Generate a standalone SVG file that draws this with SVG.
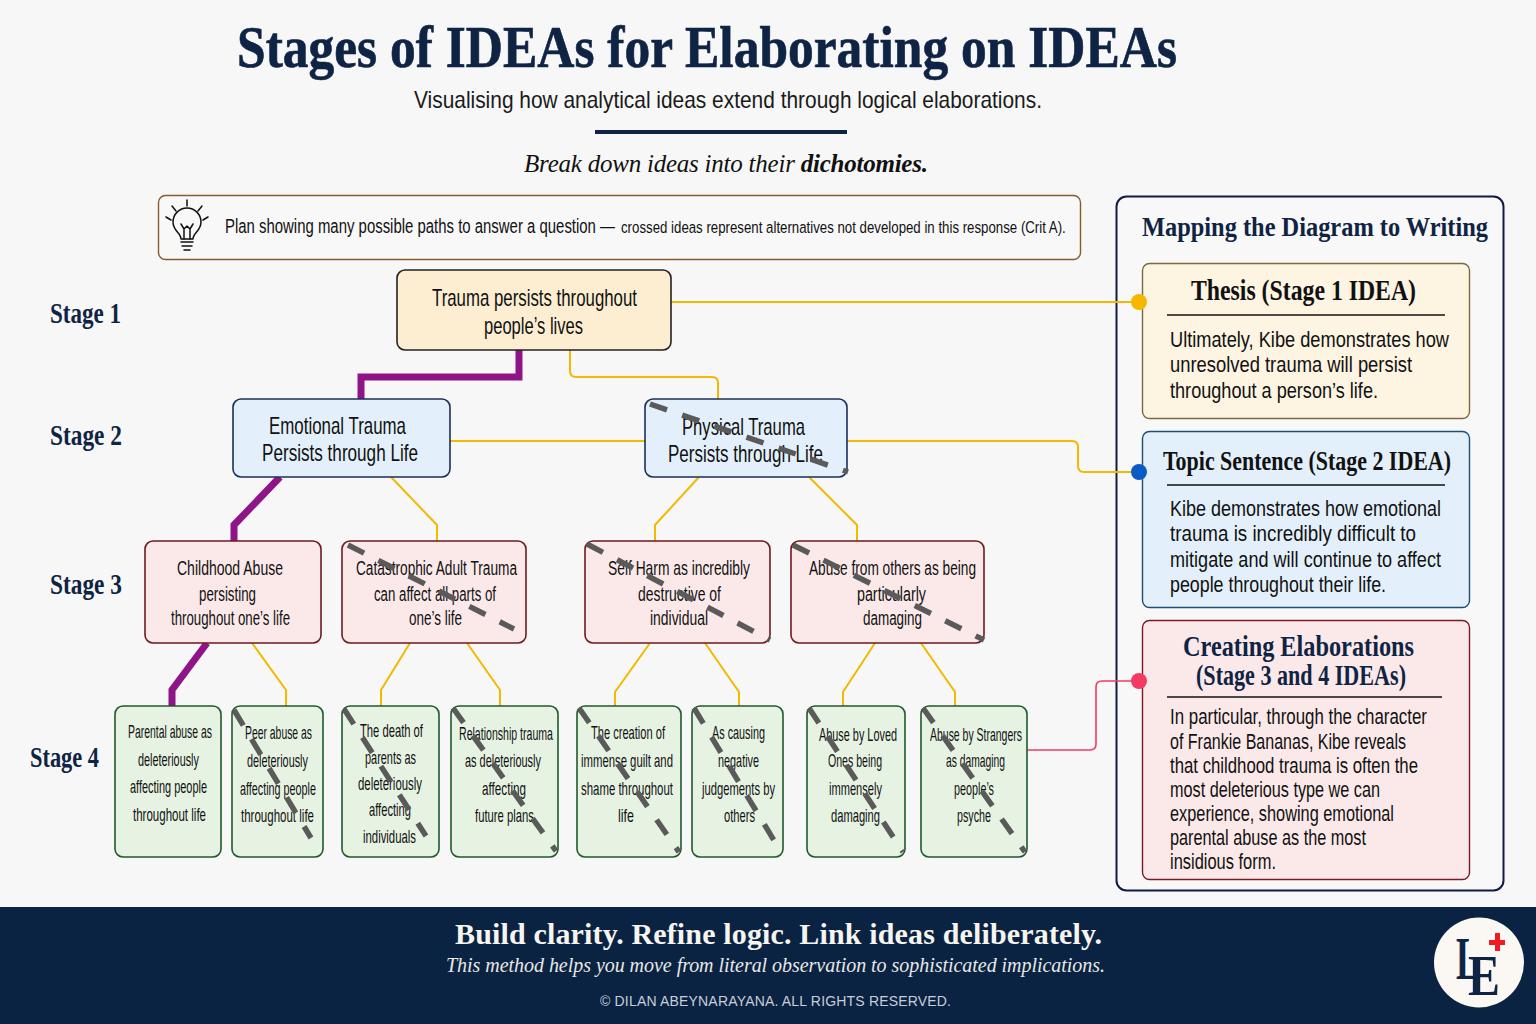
<svg xmlns="http://www.w3.org/2000/svg" width="1536" height="1024" viewBox="0 0 1536 1024">
<style>
text{font-family:"Liberation Sans Narrow","Liberation Sans",Arial,sans-serif;fill:#111}
.serif{font-family:"Liberation Serif","Times New Roman",serif}
.navy{fill:#0f2444}
.title{font-size:60px;font-weight:700;stroke:#0f2444;stroke-width:.7px}
.stage{font-size:29px;font-weight:700}
.s1{font-size:24px}
.s3{font-size:20px}
.s4{font-size:18px}
.body{font-size:22px}
.head{font-size:29px;font-weight:700}
.head2{font-size:27px;font-weight:700}
.box{stroke-width:1.6}
.b1{fill:#fdeed2;stroke:#222}
.b2{fill:#e3f0fb;stroke:#1b2f5b}
.b3{fill:#fbe9e9;stroke:#6e1a1f}
.b4{fill:#e6f3e3;stroke:#1f5a2c}
.yl{fill:none;stroke:#f5b800;stroke-width:2}
.pu{fill:none;stroke:#8e1487;stroke-width:7}
.rd{fill:none;stroke:#f33a63;stroke-width:1.6}
.x{stroke:#5a5a5a;stroke-width:5.500;stroke-dasharray:18 16;fill:none}
.rule{stroke:#111;stroke-width:1.5}
.bulb{fill:none;stroke:#111;stroke-width:1.500;stroke-linecap:round;stroke-linejoin:round}
</style>
<rect width="1536" height="1024" fill="#f7f7f7"/>
<g id="header">
<text class="serif navy title" x="237" y="67" textLength="940" lengthAdjust="spacingAndGlyphs">Stages of IDEAs for Elaborating on IDEAs</text>
<text x="414" y="108" font-size="24" textLength="628" lengthAdjust="spacingAndGlyphs" style="fill:#1a1a1a">Visualising how analytical ideas extend through logical elaborations.</text>
<rect x="595" y="130" width="252" height="4" fill="#0f2444"/>
<text class="serif" x="524" y="172" font-size="25" font-style="italic" textLength="404" lengthAdjust="spacing">Break down ideas into their <tspan font-weight="700">dichotomies.</tspan></text>
</g>
<g id="note">
<rect x="158.500" y="195.500" width="922" height="64" rx="7" fill="#f8f8f8" stroke="#8a5a2b" stroke-width="1.400"/>
<g class="bulb">
<path d="M181 239C181 233 173 231 173 222A14 14 0 0 1 201 222C201 231 193 233 193 239Z"/>
<path d="M184 239L184 229L181 224M190 239L190 229L193 224M184 229L187 226L190 229M181 242H193M182 246H192M184 250H190"/>
<path d="M187 200V206M172 206L176 211M202 206L198 211M166 217L171 220M208 217L203 220"/>
</g>
<text transform="translate(225 233) scale(.8 1)" font-size="20" textLength="487.500" lengthAdjust="spacingAndGlyphs">Plan showing many possible paths to answer a question —</text>
<text transform="translate(621 233) scale(.8 1)" font-size="17" textLength="556" lengthAdjust="spacingAndGlyphs">crossed ideas represent alternatives not developed in this response (Crit A).</text>
</g>
<g id="stage-labels">
<text class="serif navy stage" x="50" y="323" textLength="71" lengthAdjust="spacingAndGlyphs">Stage 1</text>
<text class="serif navy stage" x="50" y="445" textLength="72" lengthAdjust="spacingAndGlyphs">Stage 2</text>
<text class="serif navy stage" x="50" y="594" textLength="72" lengthAdjust="spacingAndGlyphs">Stage 3</text>
<text class="serif navy stage" x="30" y="767" textLength="69" lengthAdjust="spacingAndGlyphs">Stage 4</text>
</g>
<rect id="panel" x="1116.500" y="196.500" width="387" height="694" rx="10" fill="#f8f8f8" stroke="#101a45" stroke-width="2"/>
<g id="connectors">
<path class="yl" d="M671 302H1139"/>
<path class="yl" d="M570 350V371Q570 377 576 377H712Q718 377 718 383V399"/>
<path class="yl" d="M450 441H645"/>
<path class="yl" d="M847 441H1072Q1078 441 1078 447V466Q1078 472 1084 472H1139"/>
<path class="yl" d="M391 477L437 525V541"/>
<path class="yl" d="M699 477L655 525V541"/>
<path class="yl" d="M809 477L857 525V541"/>
<path class="yl" d="M252 643L286 690V706"/>
<path class="yl" d="M410 643L381 690V706"/>
<path class="yl" d="M467 643L500 690V706"/>
<path class="yl" d="M650 643L615 692V706"/>
<path class="yl" d="M705 643L739 692V706"/>
<path class="yl" d="M875 643L843 692V706"/>
<path class="yl" d="M921 643L955 692V706"/>
<path class="rd" d="M1027 750H1090Q1096 750 1096 744V687Q1096 681 1102 681H1139"/>
<path class="pu" d="M519 350V377H361V399"/>
<path class="pu" d="M280 477L234 525V541"/>
<path class="pu" d="M207 643L172 690V706"/>
</g>
<g id="node-s1">
<rect class="box b1" x="397" y="270" width="274" height="80" rx="8"/>
<text class="s1" x="432" y="306" textLength="205" lengthAdjust="spacingAndGlyphs">Trauma persists throughout</text>
<text class="s1" x="484" y="334" textLength="99" lengthAdjust="spacingAndGlyphs">people’s lives</text>
</g>
<g id="node-s2a">
<rect class="box b2" x="233" y="399" width="217" height="78" rx="8"/>
<text class="s1" x="269" y="434" textLength="137" lengthAdjust="spacingAndGlyphs">Emotional Trauma</text>
<text class="s1" x="262" y="461" textLength="156" lengthAdjust="spacingAndGlyphs">Persists through Life</text>
</g>
<g id="node-s2b">
<rect class="box b2" x="645" y="399" width="202" height="78" rx="8"/>
<text class="s1" x="682" y="435" textLength="123" lengthAdjust="spacingAndGlyphs">Physical Trauma</text>
<text class="s1" x="668" y="462" textLength="155" lengthAdjust="spacingAndGlyphs">Persists through Life</text>
<line class="x" x1="650" y1="404" x2="848" y2="472"/>
</g>
<g id="node-s3a">
<rect class="box b3" x="145" y="541" width="176" height="102" rx="8"/>
<text class="s3" x="177" y="575" textLength="106" lengthAdjust="spacingAndGlyphs">Childhood Abuse</text>
<text class="s3" x="199" y="601" textLength="57" lengthAdjust="spacingAndGlyphs">persisting</text>
<text class="s3" x="171" y="625" textLength="119" lengthAdjust="spacingAndGlyphs">throughout one’s life</text>
</g>
<g id="node-s3b">
<rect class="box b3" x="342" y="541" width="184" height="102" rx="8"/>
<text class="s3" x="356" y="575" textLength="161" lengthAdjust="spacingAndGlyphs">Catastrophic Adult Trauma</text>
<text class="s3" x="374" y="601" textLength="122" lengthAdjust="spacingAndGlyphs">can affect all parts of</text>
<text class="s3" x="409" y="625" textLength="53" lengthAdjust="spacingAndGlyphs">one’s life</text>
<line class="x" x1="348" y1="545" x2="514" y2="629"/>
</g>
<g id="node-s3c">
<rect class="box b3" x="585" y="541" width="185" height="102" rx="8"/>
<text class="s3" transform="translate(608 575) scale(.7 1)" textLength="202.900" lengthAdjust="spacingAndGlyphs">Self Harm as incredibly</text>
<text class="s3" x="638" y="601" textLength="83" lengthAdjust="spacingAndGlyphs">destructive of</text>
<text class="s3" x="650" y="625" textLength="58" lengthAdjust="spacingAndGlyphs">individual</text>
<line class="x" x1="587" y1="544" x2="770" y2="640"/>
</g>
<g id="node-s3d">
<rect class="box b3" x="791" y="541" width="193" height="102" rx="8"/>
<text class="s3" x="809" y="575" textLength="167" lengthAdjust="spacingAndGlyphs">Abuse from others as being</text>
<text class="s3" x="857" y="601" textLength="69" lengthAdjust="spacingAndGlyphs">particularly</text>
<text class="s3" x="863" y="625" textLength="59" lengthAdjust="spacingAndGlyphs">damaging</text>
<line class="x" x1="793" y1="545" x2="984" y2="640"/>
</g>
<g id="node-s4a">
<rect class="box b4" x="115" y="706" width="106" height="151" rx="8"/>
<text class="s4" transform="translate(128 738) scale(.65 1)" textLength="129.200" lengthAdjust="spacingAndGlyphs">Parental abuse as</text>
<text class="s4" transform="translate(138 766) scale(.65 1)" textLength="93.800" lengthAdjust="spacingAndGlyphs">deleteriously</text>
<text class="s4" transform="translate(130 793) scale(.65 1)" textLength="118.500" lengthAdjust="spacingAndGlyphs">affecting people</text>
<text class="s4" transform="translate(133 821) scale(.65 1)" textLength="112.300" lengthAdjust="spacingAndGlyphs">throughout life</text>
</g>
<g id="node-s4b">
<rect class="box b4" x="232" y="706" width="91" height="151" rx="8"/>
<text class="s4" transform="translate(245 739) scale(.65 1)" textLength="103.100" lengthAdjust="spacingAndGlyphs">Peer abuse as</text>
<text class="s4" transform="translate(247 767) scale(.65 1)" textLength="93.800" lengthAdjust="spacingAndGlyphs">deleteriously</text>
<text class="s4" transform="translate(240 795) scale(.65 1)" textLength="116.900" lengthAdjust="spacingAndGlyphs">affecting people</text>
<text class="s4" transform="translate(241 822) scale(.65 1)" textLength="112.300" lengthAdjust="spacingAndGlyphs">throughout life</text>
<line class="x" x1="234" y1="710" x2="311" y2="838"/>
</g>
<g id="node-s4c">
<rect class="box b4" x="342" y="706" width="97" height="151" rx="8"/>
<text class="s4" transform="translate(360 737) scale(.65 1)" textLength="96.900" lengthAdjust="spacingAndGlyphs">The death of</text>
<text class="s4" transform="translate(365 764) scale(.65 1)" textLength="78.500" lengthAdjust="spacingAndGlyphs">parents as</text>
<text class="s4" transform="translate(358 790) scale(.65 1)" textLength="98.500" lengthAdjust="spacingAndGlyphs">deleteriously</text>
<text class="s4" transform="translate(369 816) scale(.65 1)" textLength="64.600" lengthAdjust="spacingAndGlyphs">affecting</text>
<text class="s4" transform="translate(363 843) scale(.65 1)" textLength="81.500" lengthAdjust="spacingAndGlyphs">individuals</text>
<line class="x" x1="344" y1="709" x2="426" y2="836"/>
</g>
<g id="node-s4d">
<rect class="box b4" x="451" y="706" width="107" height="151" rx="8"/>
<text class="s4" transform="translate(459 740) scale(.65 1)" textLength="144.600" lengthAdjust="spacingAndGlyphs">Relationship trauma</text>
<text class="s4" transform="translate(465 767) scale(.65 1)" textLength="116.900" lengthAdjust="spacingAndGlyphs">as deleteriously</text>
<text class="s4" transform="translate(482 795) scale(.65 1)" textLength="67.700" lengthAdjust="spacingAndGlyphs">affecting</text>
<text class="s4" transform="translate(475 822) scale(.65 1)" textLength="90.800" lengthAdjust="spacingAndGlyphs">future plans</text>
<line class="x" x1="453" y1="708" x2="556" y2="851"/>
</g>
<g id="node-s4e">
<rect class="box b4" x="577" y="706" width="104" height="151" rx="8"/>
<text class="s4" transform="translate(591 739) scale(.65 1)" textLength="113.800" lengthAdjust="spacingAndGlyphs">The creation of</text>
<text class="s4" transform="translate(581 767) scale(.65 1)" textLength="141.500" lengthAdjust="spacingAndGlyphs">immense guilt and</text>
<text class="s4" transform="translate(581 795) scale(.65 1)" textLength="141.500" lengthAdjust="spacingAndGlyphs">shame throughout</text>
<text class="s4" transform="translate(618 822) scale(.65 1)" textLength="24.600" lengthAdjust="spacingAndGlyphs">life</text>
<line class="x" x1="579" y1="708" x2="679" y2="852"/>
</g>
<g id="node-s4f">
<rect class="box b4" x="692" y="706" width="91" height="151" rx="8"/>
<text class="s4" transform="translate(712 739) scale(.65 1)" textLength="81.500" lengthAdjust="spacingAndGlyphs">As causing</text>
<text class="s4" transform="translate(718 767) scale(.65 1)" textLength="63.100" lengthAdjust="spacingAndGlyphs">negative</text>
<text class="s4" transform="translate(702 795) scale(.65 1)" textLength="112.300" lengthAdjust="spacingAndGlyphs">judgements by</text>
<text class="s4" transform="translate(724 822) scale(.65 1)" textLength="47.700" lengthAdjust="spacingAndGlyphs">others</text>
<line class="x" x1="694" y1="708" x2="781" y2="852"/>
</g>
<g id="node-s4g">
<rect class="box b4" x="807" y="706" width="98" height="151" rx="8"/>
<text class="s4" transform="translate(819 741) scale(.65 1)" textLength="120" lengthAdjust="spacingAndGlyphs">Abuse by Loved</text>
<text class="s4" transform="translate(828 767) scale(.65 1)" textLength="83.100" lengthAdjust="spacingAndGlyphs">Ones being</text>
<text class="s4" transform="translate(829 795) scale(.65 1)" textLength="81.500" lengthAdjust="spacingAndGlyphs">immensely</text>
<text class="s4" transform="translate(831 822) scale(.65 1)" textLength="75.400" lengthAdjust="spacingAndGlyphs">damaging</text>
<line class="x" x1="809" y1="708" x2="903" y2="852"/>
</g>
<g id="node-s4h">
<rect class="box b4" x="921" y="706" width="106" height="151" rx="8"/>
<text class="s4" transform="translate(930 741) scale(.65 1)" textLength="141.500" lengthAdjust="spacingAndGlyphs">Abuse by Strangers</text>
<text class="s4" transform="translate(946 767) scale(.65 1)" textLength="90.800" lengthAdjust="spacingAndGlyphs">as damaging</text>
<text class="s4" transform="translate(954 795) scale(.65 1)" textLength="61.500" lengthAdjust="spacingAndGlyphs">people’s</text>
<text class="s4" transform="translate(957 822) scale(.65 1)" textLength="52.300" lengthAdjust="spacingAndGlyphs">psyche</text>
<line class="x" x1="923" y1="708" x2="1025" y2="852"/>
</g>
<g id="panel-content">
<text class="serif navy head2" x="1142" y="236" textLength="346" lengthAdjust="spacingAndGlyphs">Mapping the Diagram to Writing</text>
</g>
<g id="card-thesis">
<rect x="1142.500" y="263.500" width="327" height="155" rx="7" fill="#fdf4e2" stroke="#7a6a40" stroke-width="1.400"/>
<text class="serif head" x="1191" y="300" textLength="225" lengthAdjust="spacingAndGlyphs">Thesis (Stage 1 IDEA)</text>
<line class="rule" x1="1167" y1="315" x2="1445" y2="315"/>
<text class="body" x="1170" y="347" textLength="279" lengthAdjust="spacingAndGlyphs">Ultimately, Kibe demonstrates how</text>
<text class="body" x="1170" y="372" textLength="242" lengthAdjust="spacingAndGlyphs">unresolved trauma will persist</text>
<text class="body" x="1170" y="398" textLength="208" lengthAdjust="spacingAndGlyphs">throughout a person’s life.</text>
<circle cx="1139" cy="302" r="8" fill="#f5b800"/>
</g>
<g id="card-topic">
<rect x="1142.500" y="431.500" width="327" height="176" rx="7" fill="#e3f0fb" stroke="#1b4f7a" stroke-width="1.400"/>
<text class="serif head2" x="1163" y="470" textLength="288" lengthAdjust="spacingAndGlyphs">Topic Sentence (Stage 2 IDEA)</text>
<line class="rule" x1="1167" y1="485" x2="1445" y2="485"/>
<text class="body" x="1170" y="516" textLength="271" lengthAdjust="spacingAndGlyphs">Kibe demonstrates how emotional</text>
<text class="body" x="1170" y="541" textLength="246" lengthAdjust="spacingAndGlyphs">trauma is incredibly difficult to</text>
<text class="body" x="1170" y="567" textLength="271" lengthAdjust="spacingAndGlyphs">mitigate and will continue to affect</text>
<text class="body" x="1170" y="592" textLength="216" lengthAdjust="spacingAndGlyphs">people throughout their life.</text>
<circle cx="1139" cy="472" r="8" fill="#0a5cc4"/>
</g>
<g id="card-creating">
<rect x="1142.500" y="620.500" width="327" height="259" rx="7" fill="#fbe9e9" stroke="#7a1a25" stroke-width="1.400"/>
<text class="serif navy head" x="1183" y="656" textLength="231" lengthAdjust="spacingAndGlyphs">Creating Elaborations</text>
<text class="serif navy head" x="1196" y="685" textLength="210" lengthAdjust="spacingAndGlyphs">(Stage 3 and 4 IDEAs)</text>
<line class="rule" x1="1167" y1="697" x2="1442" y2="697"/>
<text class="body" x="1170" y="724" textLength="257" lengthAdjust="spacingAndGlyphs">In particular, through the character</text>
<text class="body" x="1170" y="749" textLength="236" lengthAdjust="spacingAndGlyphs">of Frankie Bananas, Kibe reveals</text>
<text class="body" x="1170" y="773" textLength="248" lengthAdjust="spacingAndGlyphs">that childhood trauma is often the</text>
<text class="body" x="1170" y="797" textLength="210" lengthAdjust="spacingAndGlyphs">most deleterious type we can</text>
<text class="body" x="1170" y="821" textLength="224" lengthAdjust="spacingAndGlyphs">experience, showing emotional</text>
<text class="body" x="1170" y="845" textLength="196" lengthAdjust="spacingAndGlyphs">parental abuse as the most</text>
<text class="body" x="1170" y="869" textLength="106" lengthAdjust="spacingAndGlyphs">insidious form.</text>
<circle cx="1139" cy="681" r="8" fill="#f33a63"/>
</g>
<g id="footer">
<rect y="907" width="1536" height="117" fill="#0a2343"/>
<text class="serif" x="455" y="944" font-size="30" font-weight="700" style="fill:#f7f5ef" textLength="647" lengthAdjust="spacing">Build clarity. Refine logic. Link ideas deliberately.</text>
<text class="serif" x="446" y="972" font-size="20" font-style="italic" style="fill:#e8e8e4" textLength="659" lengthAdjust="spacing">This method helps you move from literal observation to sophisticated implications.</text>
<text x="600" y="1006" font-size="14" style="font-family:'Liberation Sans',Arial,sans-serif;fill:#c8ced8" textLength="351" lengthAdjust="spacing">© DILAN ABEYNARAYANA. ALL RIGHTS RESERVED.</text>
</g>
<g id="logo">
<circle cx="1479" cy="962.500" r="45" fill="#fbf8f3"/>
<text class="serif navy" x="1456" y="979" font-size="62" font-weight="700" textLength="24" lengthAdjust="spacingAndGlyphs">L</text>
<text class="serif navy" x="1468" y="995" font-size="56" font-weight="700" textLength="32" lengthAdjust="spacingAndGlyphs">E</text>
<path d="M1495 933h5v7h5v5h-5v6h-5v-6h-6v-5h6z" fill="#f01a24"/>
</g>
</svg>
